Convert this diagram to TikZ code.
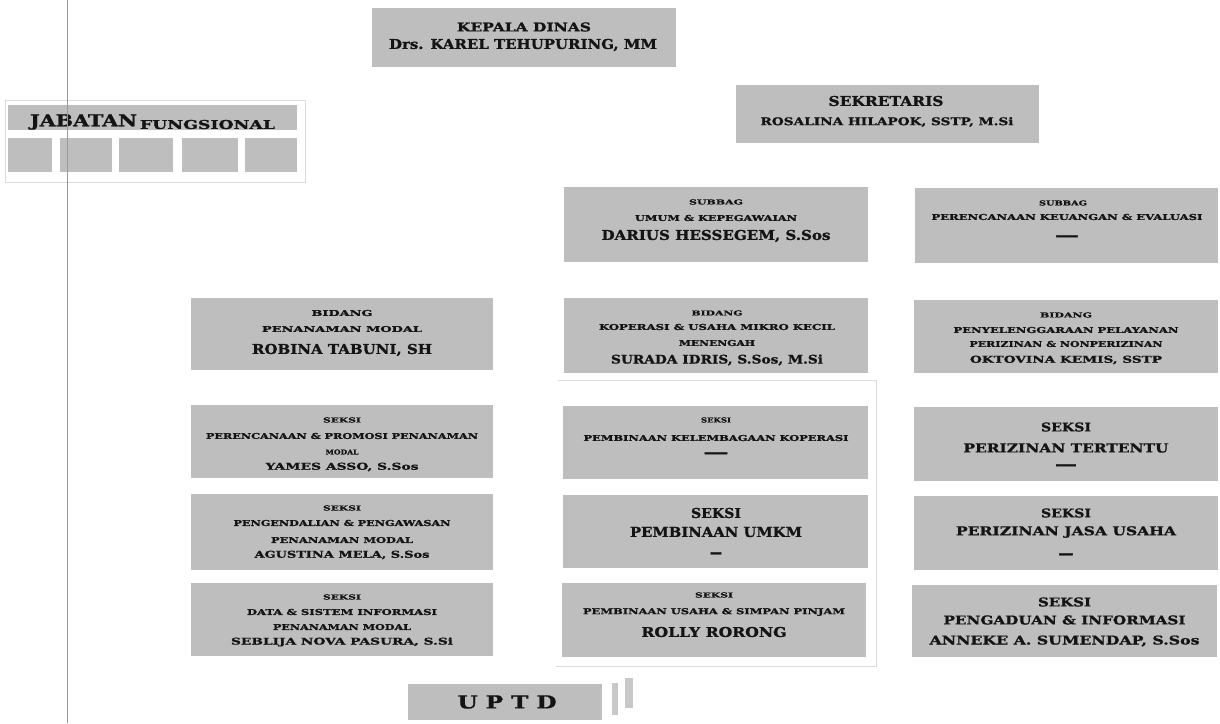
\documentclass[tikz,border=0pt]{standalone}
\usepackage{fontspec}
\setmainfont{DejaVu Serif}[BoldFeatures={FakeBold=1.2}]
\usepackage{graphicx}
\definecolor{boxgray}{RGB}{190,190,190}
\definecolor{bargray}{RGB}{200,200,200}
\tikzset{
  box/.style={fill=boxgray, draw=none, inner sep=0pt, outer sep=0pt},
  tl/.style={inner sep=0pt, outer sep=0pt, font=\bfseries, text=black!92},
  faint/.style={draw=black!14, line width=0.8pt},
  vline/.style={draw=black!40, line width=0.7pt}
}
\newcommand\bx[5]{\node[box, minimum width={(#4)-(#2)}, minimum height={(#5)-(#3)}] (#1) at ({((#2)+(#4))/2},{((#3)+(#5))/2}) {};}
\newcommand\tl[6]{\node[tl] (#1) at (#2,#3) {\resizebox{#4pt}{#5pt}{#6}};}
\newcommand\dl[4]{\node[tl] (#1) at (#2,#3) {\resizebox{#4pt}{5.5pt}{---}};}
\begin{document}
\begin{tikzpicture}[x=1pt,y=-1pt]
\useasboundingbox[fill=white] (0,0) rectangle (1220,723);
% faint frames
\draw[faint] (5,100) rectangle (305,182);
\draw[faint] (558,380) -- (876,380) -- (876,666) -- (556,666);
% Kepala dinas
\bx{kd}{372}{8}{676}{67}
\tl{kd1}{524}{27}{134}{9}{KEPALA DINAS}
\tl{kd2}{523}{45}{268}{10}{Drs. KAREL TEHUPURING, MM}
% Jabatan fungsional
\bx{jf}{8}{105}{297}{130}
\tl{jf1}{83.5}{122}{107}{12}{JABATAN}
\tl{jf2}{207.5}{124.5}{135}{9}{FUNGSIONAL}
\bx{jfa}{8}{138}{52}{172}
\bx{jfb}{60}{138}{112}{172}
\bx{jfc}{119}{138}{173}{172}
\bx{jfd}{182}{138}{238}{172}
\bx{jfe}{245}{138}{297}{172}
% Sekretaris
\bx{sk}{736}{85}{1039}{143}
\tl{sk1}{886}{101}{115}{10}{SEKRETARIS}
\tl{sk2}{887}{122}{253}{8}{ROSALINA HILAPOK, SSTP, M.Si}
% Subbag umum
\bx{su}{564}{187}{868}{262}
\tl{su1}{716}{202}{54}{5}{SUBBAG}
\tl{su2}{716}{218}{162}{6}{UMUM \& KEPEGAWAIAN}
\tl{su3}{716}{236}{229}{10}{DARIUS HESSEGEM, S.Sos}
% Subbag perencanaan
\bx{sp}{915}{188}{1218}{263}
\tl{sp1}{1063}{203}{48}{5}{SUBBAG}
\tl{sp2}{1067}{217}{271}{6}{PERENCANAAN KEUANGAN \& EVALUASI}
\dl{sp3}{1067}{238}{24}
% Bidang penanaman modal
\bx{bpm}{191}{298}{493}{370}
\tl{bpm1}{342}{313}{61}{6}{BIDANG}
\tl{bpm2}{342}{329}{160}{6}{PENANAMAN MODAL}
\tl{bpm3}{342}{350}{180}{10}{ROBINA TABUNI, SH}
% Bidang koperasi
\bx{bk}{564}{298}{868}{373}
\tl{bk1}{717}{313}{51}{5}{BIDANG}
\tl{bk2}{717}{327}{236}{6}{KOPERASI \& USAHA MIKRO KECIL}
\tl{bk3}{717}{343}{76}{6}{MENENGAH}
\tl{bk4}{717}{360}{212}{9}{SURADA IDRIS, S.Sos, M.Si}
% Bidang penyelenggaraan
\bx{bp}{914}{300}{1218}{373}
\tl{bp1}{1066}{315}{52}{5}{BIDANG}
\tl{bp2}{1066}{330}{225}{6}{PENYELENGGARAAN PELAYANAN}
\tl{bp3}{1066}{344}{193}{6}{PERIZINAN \& NONPERIZINAN}
\tl{bp4}{1066}{360}{192}{7}{OKTOVINA KEMIS, SSTP}
% Seksi row 1
\bx{sa1}{191}{405}{493}{478}
\tl{sa1a}{342}{420}{38}{5}{SEKSI}
\tl{sa1b}{342}{436}{272}{6}{PERENCANAAN \& PROMOSI PENANAMAN}
\tl{sa1c}{342}{452}{33}{5}{MODAL}
\tl{sa1d}{342}{467}{153}{7}{YAMES ASSO, S.Sos}
\bx{sb1}{563}{406}{868}{479}
\tl{sb1a}{716}{420}{30}{5}{SEKSI}
\tl{sb1b}{716}{438}{265}{6}{PEMBINAAN KELEMBAGAAN KOPERASI}
\dl{sb1c}{716}{455}{25}
\bx{sc1}{914}{407}{1218}{481}
\tl{sc1a}{1066}{427}{50}{9}{SEKSI}
\tl{sc1b}{1066}{448}{205}{9}{PERIZINAN TERTENTU}
\dl{sc1c}{1066}{467}{22}
% Seksi row 2
\bx{sa2}{191}{494}{493}{570}
\tl{sa2a}{342}{508}{38}{5}{SEKSI}
\tl{sa2b}{342}{523}{217}{6}{PENGENDALIAN \& PENGAWASAN}
\tl{sa2c}{342}{540}{142}{6}{PENANAMAN MODAL}
\tl{sa2d}{342}{555}{175}{7}{AGUSTINA MELA, S.Sos}
\bx{sb2}{563}{495}{868}{568}
\tl{sb2a}{716}{513}{50}{10}{SEKSI}
\tl{sb2b}{716}{532}{172}{10}{PEMBINAAN UMKM}
\dl{sb2c}{716}{555}{12}
\bx{sc2}{914}{496}{1218}{570}
\tl{sc2a}{1066}{513}{50}{9}{SEKSI}
\tl{sc2b}{1066}{532}{220}{9}{PERIZINAN JASA USAHA}
\dl{sc2c}{1066}{556}{15}
% Seksi row 3
\bx{sa3}{191}{583}{493}{656}
\tl{sa3a}{342}{597}{38}{5}{SEKSI}
\tl{sa3b}{342}{612}{190}{6}{DATA \& SISTEM INFORMASI}
\tl{sa3c}{342}{627}{138}{6}{PENANAMAN MODAL}
\tl{sa3d}{342}{642}{222}{7}{SEBLIJA NOVA PASURA, S.Si}
\bx{sb3}{562}{583}{866}{657}
\tl{sb3a}{714}{595}{38}{5}{SEKSI}
\tl{sb3b}{714}{612}{262}{6}{PEMBINAAN USAHA \& SIMPAN PINJAM}
\tl{sb3c}{714}{632}{145}{10}{ROLLY RORONG}
\bx{sc3}{912}{585}{1217}{657}
\tl{sc3a}{1064.5}{602}{53}{9}{SEKSI}
\tl{sc3b}{1064.5}{620}{242}{9}{PENGADUAN \& INFORMASI}
\tl{sc3c}{1064.5}{641}{270}{9}{ANNEKE A. SUMENDAP, S.Sos}
% UPTD
\bx{up}{408}{684}{602}{720}
\tl{up1}{507}{702}{99}{13}{U P T D}
\node[fill=bargray, inner sep=0pt, minimum width=6, minimum height=32] (upb1) at (615,699) {};
\node[fill=bargray, inner sep=0pt, minimum width=8, minimum height=30] (upb2) at (629,693) {};
% vertical rule (over the boxes)
\coordinate (vt) at (67,0);
\coordinate (vb) at (67,723);
\draw[vline] (vt) -- (vb);
\end{tikzpicture}
\end{document}
